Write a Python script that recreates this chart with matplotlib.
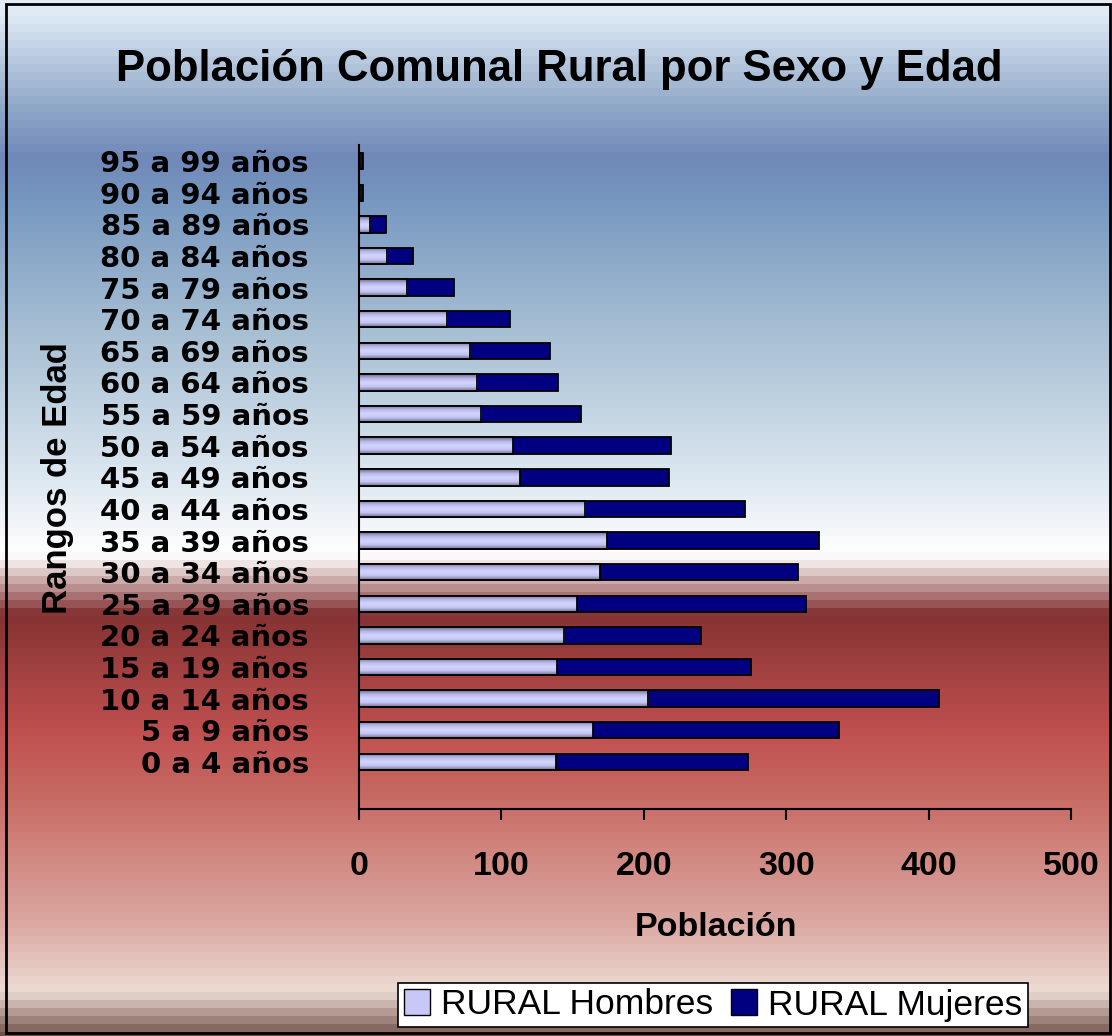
import numpy as np
import matplotlib.pyplot as plt
from matplotlib.colors import LinearSegmentedColormap
from matplotlib.patches import Rectangle, Patch

# data (0 a 4 first)
edades = ['0 a 4 años', '5 a 9 años', '10 a 14 años', '15 a 19 años', '20 a 24 años',
          '25 a 29 años', '30 a 34 años', '35 a 39 años', '40 a 44 años', '45 a 49 años',
          '50 a 54 años', '55 a 59 años', '60 a 64 años', '65 a 69 años', '70 a 74 años',
          '75 a 79 años', '80 a 84 años', '85 a 89 años', '90 a 94 años', '95 a 99 años']
hombres = [138, 164, 203, 139, 144, 153, 169, 174, 159, 113,
           108, 86, 83, 78, 62, 34, 20, 8, 1, 1]
mujeres = [135, 173, 204, 136, 96, 161, 139, 149, 112, 105,
           111, 70, 57, 56, 44, 33, 18, 11, 2, 2]
xticks = [0, 100, 200, 300, 400, 500]

W, H = 1112, 1036
fig = plt.figure(figsize=(W / 100, H / 100), dpi=100)
fig.patch.set_facecolor('white')

# background gradient (Excel style), stops by pixel row
stops = [(0, '#e2ecf6'), (10, '#dce8f4'), (100, '#90a8c8'), (152, '#7088b8'),
         (198, '#7898c0'), (330, '#a8c0d4'), (463, '#d8e4ee'), (549, '#ffffff'),
         (558, '#f4eeee'), (611, '#843232'), (727, '#c05050'), (793, '#c86a64'),
         (925, '#dcaaa4'), (991, '#ecdcd4'), (1036, '#705048')]
cmap = LinearSegmentedColormap.from_list('fondo', [(p / H, c) for p, c in stops])
bg = fig.add_axes([0, 0, 1, 1], zorder=-10)
grad = np.floor(np.arange(H) / 8) * 8 / H
bg.imshow(grad[:, None], aspect='auto', cmap=cmap, vmin=0, vmax=1, extent=[0, 1, 1, 0])
bg.set_xlim(0, 1)
bg.set_ylim(1, 0)
bg.axis('off')
fig.patches.append(Rectangle((6 / W, 3 / H), 1104 / W, 1029 / H, transform=fig.transFigure,
                             fill=False, edgecolor='black', linewidth=2))

ax = fig.add_axes([359 / W, 227 / H, 712 / W, 664 / H])
ax.patch.set_alpha(0)
y = np.arange(len(edades))
h = 0.52
b1 = ax.barh(y, hombres, height=h, color='#c8c8f8', edgecolor='black', linewidth=1.3)
b2 = ax.barh(y, mujeres, left=hombres, height=h, color='#000080', edgecolor='black', linewidth=1.3)

# shading on the light bars
shade = LinearSegmentedColormap.from_list('s', ['#6c6c88', '#b8b8e8', '#d4d4ff', '#c4c4f4', '#70708c'])
g = np.linspace(0, 1, 50)[:, None]
for r in b1:
    x0, y0 = r.get_x(), r.get_y()
    im = ax.imshow(g, aspect='auto', cmap=shade, extent=[x0, x0 + r.get_width(), y0, y0 + r.get_height()],
                   zorder=r.get_zorder() + 0.1, origin='upper')
    im.set_clip_path(r)
for r in b1:
    ax.add_patch(Rectangle((r.get_x(), r.get_y()), r.get_width(), r.get_height(), fill=False,
                           edgecolor='black', linewidth=1.3, zorder=3))

ax.set_xlim(0, 500)
ax.set_ylim(-1.49, 19.51)
ax.set_xticks(xticks)
ax.set_xticklabels([str(t) for t in xticks], fontsize=24.5, fontweight='bold', family='Liberation Sans')
ax.set_yticks(y)
ax.set_yticklabels(edades, fontsize=21, fontweight='bold', family='DejaVu Sans')
ax.tick_params(axis='y', length=0, pad=36)
ax.tick_params(axis='x', direction='out', length=8, width=1.5, pad=22)
for s in ['top', 'right']:
    ax.spines[s].set_visible(False)
ax.spines['left'].set_linewidth(1.5)
ax.spines['bottom'].set_linewidth(1.5)

fig.text(559 / W, 1 - 70 / H, 'Población Comunal Rural por Sexo y Edad', ha='center', va='center',
         fontsize=31.5, fontweight='bold', family='Liberation Sans')
fig.text(716 / W, 1 - 927 / H, 'Población', ha='center', va='center',
         fontsize=24.5, fontweight='bold', family='Liberation Sans')
fig.text(58 / W, 1 - 478 / H, 'Rangos de Edad', ha='center', va='center', rotation=90,
         fontsize=25, fontweight='bold', family='Liberation Sans')

handles = [Patch(facecolor='#c8c8f8', edgecolor='black', label='RURAL Hombres'),
           Patch(facecolor='#000080', edgecolor='black', label='RURAL Mujeres')]
leg = fig.legend(handles=handles, loc='center', bbox_to_anchor=(713 / W, 1 - 1005 / H), ncol=2,
                 prop={'family': 'Liberation Sans', 'size': 25.5}, frameon=True, fancybox=False,
                 framealpha=1, edgecolor='black', handlelength=0.75, handleheight=0.75,
                 handletextpad=0.3, columnspacing=0.5, borderpad=0.15, borderaxespad=0)
leg.get_frame().set_linewidth(1.2)

fig.savefig('out.png', dpi=100)
